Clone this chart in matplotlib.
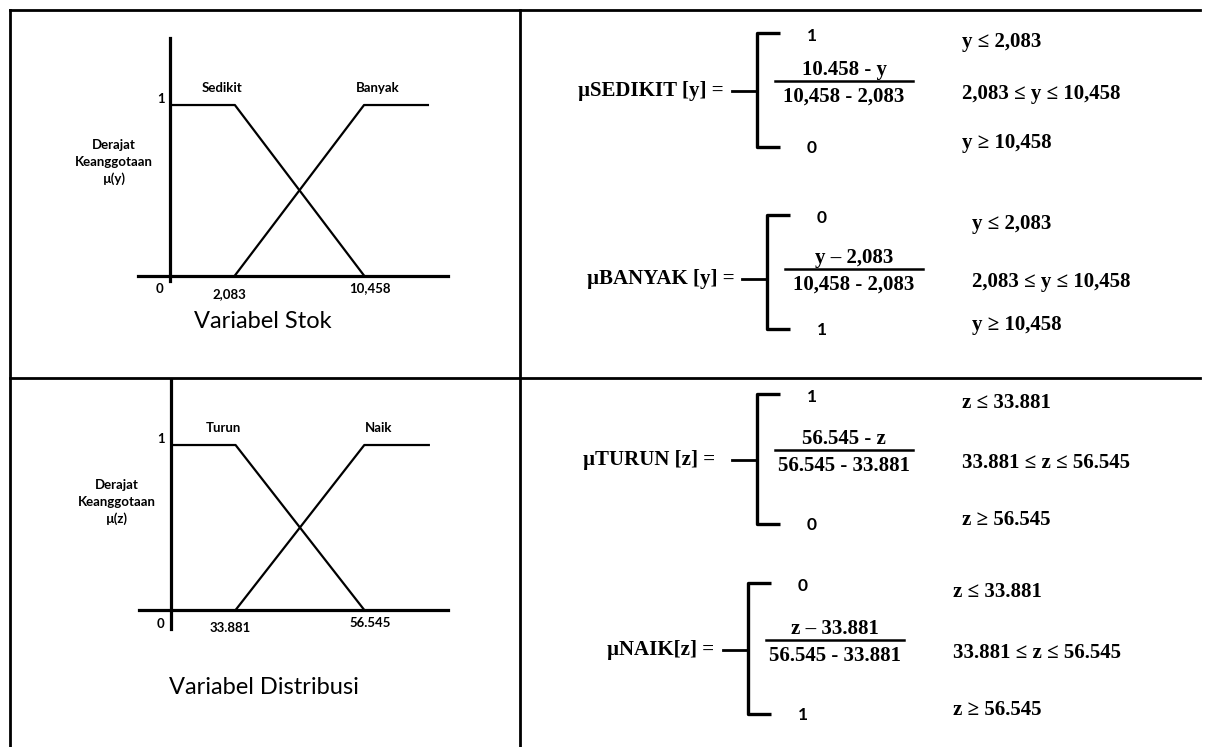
import numpy as np
import matplotlib
matplotlib.use("Agg")
import matplotlib.pyplot as plt

# ---- data ----
stok_x = [0, 2.083, 10.458, 14.6]
sedikit_mu = [1, 1, 0]
banyak_mu = [0, 1, 1]
stok_ticks = ["2,083", "10,458"]
stok_sets = ["Sedikit", "Banyak"]

dist_x = [0, 33.881, 56.545, 67.9]
turun_mu = [1, 1, 0]
naik_mu = [0, 1, 1]
dist_ticks = ["33.881", "56.545"]
dist_sets = ["Turun", "Naik"]

names = ["µSEDIKIT [y] =", "µBANYAK [y] =", "µTURUN [z] =", "µNAIK[z] ="]
top_vals = ["1", "0", "1", "0"]
bot_vals = ["0", "1", "0", "1"]
numerators = ["10.458 - y", "y – 2,083", "56.545 - z", "z – 33.881"]
denominators = ["10,458 - 2,083", "10,458 - 2,083", "56.545 - 33.881", "56.545 - 33.881"]
conditions = [
    ["y ≤ 2,083", "2,083 ≤ y ≤ 10,458", "y ≥ 10,458"],
    ["y ≤ 2,083", "2,083 ≤ y ≤ 10,458", "y ≥ 10,458"],
    ["z ≤ 33.881", "33.881 ≤ z ≤ 56.545", "z ≥ 56.545"],
    ["z ≤ 33.881", "33.881 ≤ z ≤ 56.545", "z ≥ 56.545"],
]

# ---- layout (pixels) ----
W, H = 1210, 747
# name_x, mid_y, brace_x, top_y, bottom_y
blocks = [(578, 91, 757, 33, 147), (587, 279, 767, 215, 329),
          (583, 460, 757, 394, 524), (607, 650, 748, 583, 714)]

SERIF = ["Liberation Serif", "DejaVu Serif"]
SANS = ["Lato", "DejaVu Sans"]
FS = 15

fig = plt.figure(figsize=(W / 100, H / 100), dpi=100)
bg = fig.add_axes([0, 0, 1, 1])
bg.set_xlim(0, W)
bg.set_ylim(H, 0)
bg.axis("off")

# table grid
lw_t = 2.0
bg.plot([10, 10], [10, H], color="black", lw=lw_t)
bg.plot([520, 520], [10, H], color="black", lw=lw_t)
bg.plot([10, 1200], [10, 10], color="black", lw=lw_t)
bg.plot([10, 1200], [378, 378], color="black", lw=lw_t)

# formulas
for i, (nx, my, bx, ty, by) in enumerate(blocks):
    bg.text(nx, my, names[i], family=SERIF, weight="bold", fontsize=FS,
            ha="left", va="center")
    bg.plot([bx + 23, bx, bx, bx + 23], [ty, ty, by, by], color="black",
            lw=2.4, solid_joinstyle="round", solid_capstyle="butt")
    bg.plot([bx - 25, bx], [my, my], color="black", lw=2.0)
    bg.text(bx + 55, ty + 3, top_vals[i], family=SANS, weight="bold",
            fontsize=12.5, ha="center", va="center")
    bg.text(bx + 55, by + 1, bot_vals[i], family=SANS, weight="bold",
            fontsize=12.5, ha="center", va="center")
    fx = bx + 87
    ly = my - 10
    bg.plot([fx - 69, fx + 69], [ly, ly], color="black", lw=1.8)
    bg.text(fx, ly - 11, numerators[i], family=SERIF, weight="bold",
            fontsize=FS, ha="center", va="center")
    bg.text(fx, ly + 16, denominators[i], family=SERIF, weight="bold",
            fontsize=FS, ha="center", va="center")
    for cy, c in zip([ty + 9, my + 3, by - 4], conditions[i]):
        bg.text(bx + 205, cy, c, family=SERIF, weight="bold", fontsize=FS,
                ha="left", va="center")


def schematic_scale(a, b):
    # gambar tidak berskala: 0 -> 0, a -> 1, b -> 3
    k = (b - a) / 2.0

    def fwd(x):
        x = np.asarray(x, dtype=float)
        return np.where(x < a, x / a, 1 + (x - a) / k)

    def inv(u):
        u = np.asarray(u, dtype=float)
        return np.where(u < 1, u * a, a + (u - 1) * k)

    return fwd, inv


def membership(box, xs, mu_lo, mu_hi, ticks, sets, ylim, title, title_y, ylab, ylab_xy):
    x0, y0, x1, y1 = box
    ax = fig.add_axes([x0 / W, 1 - y1 / H, (x1 - x0) / W, (y1 - y0) / H])
    ax.patch.set_alpha(0)
    fwd, inv = schematic_scale(xs[1], xs[2])
    ax.set_xscale("function", functions=(fwd, inv))
    ax.set_xlim(float(inv(-0.5)), float(inv(4.3)))
    ax.set_ylim(*ylim)
    for s in ["top", "right"]:
        ax.spines[s].set_visible(False)
    for s in ["left", "bottom"]:
        ax.spines[s].set_position(("data", 0))
        ax.spines[s].set_linewidth(2.3)
    ax.set_xticks([])
    ax.set_yticks([])
    ax.plot(xs[:3], mu_lo, color="black", lw=1.6, clip_on=False)
    ax.plot(xs[1:], mu_hi, color="black", lw=1.6, clip_on=False)

    kw = dict(textcoords="offset points", family=SANS, weight="bold",
              fontsize=9.5, ha="center", va="center", annotation_clip=False)
    ax.annotate(ticks[0], (xs[1], 0), xytext=(-4, -13), **kw)
    ax.annotate(ticks[1], (xs[2], 0), xytext=(4, -9), **kw)
    ax.annotate("0", (0, 0), xytext=(-8, -10), **kw)
    ax.annotate("1", (0, 1), xytext=(-7, 4), **kw)
    ax.annotate(sets[0], (xs[1], 1), xytext=(-9, 12), **kw)
    ax.annotate(sets[1], (xs[2], 1), xytext=(10, 12), **kw)

    bg.text(ylab_xy[0], ylab_xy[1], ylab, family=SANS, weight="bold",
            fontsize=9.5, ha="center", va="center", linespacing=1.45)
    bg.text((x0 + x1) / 2 - 30, title_y, title, family=SANS, fontsize=17,
            ha="center", va="center")


membership((138, 38, 448, 281), stok_x, sedikit_mu, banyak_mu, stok_ticks,
           stok_sets, (-0.032, 1.393), "Variabel Stok", 321,
           "Derajat\nKeanggotaan\nµ(y)", (114, 162))
membership((139, 380, 448, 629), dist_x, turun_mu, naik_mu, dist_ticks,
           dist_sets, (-0.115, 1.394), "Variabel Distribusi", 688,
           "Derajat\nKeanggotaan\nµ(z)", (117, 502))

fig.savefig("out.png", dpi=100)
